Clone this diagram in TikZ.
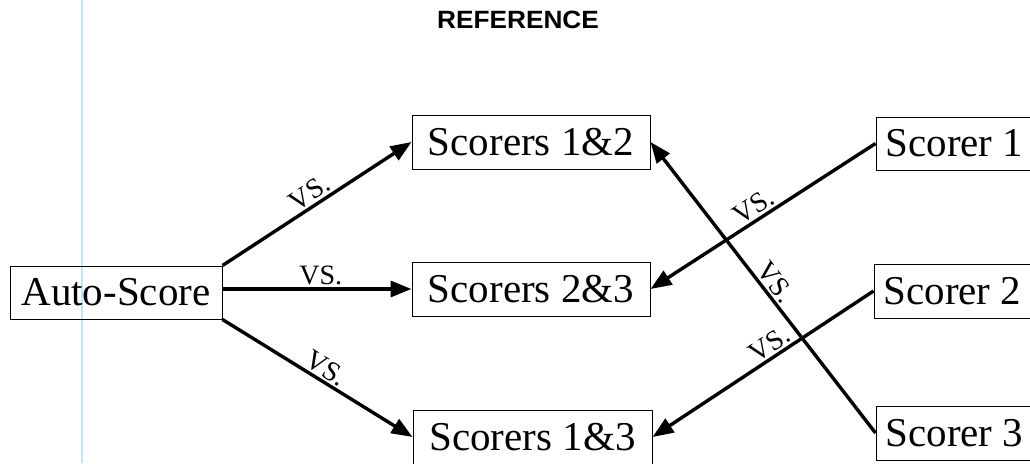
\documentclass[tikz,border=0pt]{standalone}
\usepackage{fontspec}
\setmainfont{Liberation Serif}
\newfontfamily\titlefont{Liberation Sans}
\usetikzlibrary{arrows.meta}
\definecolor{guide}{RGB}{195,228,240}
\tikzset{
  box/.style={draw=black, line width=1pt, inner sep=0pt, minimum height=54pt,
    font=\fontsize{41}{41}\selectfont},
  link/.style={line width=3.4pt, -{Triangle[length=21pt,width=16pt]}},
  vs/.style={sloped, above, inner sep=2pt, font=\fontsize{28}{28}\selectfont}
}
\begin{document}
\begin{tikzpicture}[x=1pt,y=-1pt]
\useasboundingbox (0,0) rectangle (1030,463);
\clip (0,0) rectangle (1030,463);
\draw[guide, line width=1.6pt] (82,0) -- (82,463);
\node[font=\titlefont\bfseries\fontsize{25}{25}\selectfont] (title) at (518,20) {\scalebox{1.05}[1]{REFERENCE}};

\node[box, minimum width=212pt, minimum height=53pt] (auto) at (116,292.5) {Auto-Score};
\node[box, minimum width=238pt] (s12) at (531,142) {Scorers 1\&2};
\node[box, minimum width=238pt] (s23) at (531,289) {Scorers 2\&3};
\node[box, minimum width=239pt] (s13) at (532.5,437) {Scorers 1\&3};
\node[box, minimum width=157pt, minimum height=53pt] (r1) at (954.5,143.5) {Scorer 1};
\node[box, minimum width=157pt] (r2) at (952.5,291) {Scorer 2};
\node[box, minimum width=157pt] (r3) at (954.5,433) {Scorer 3};

\coordinate (aeast) at (auto.east |- s23.west);
\draw[link] (auto.north east) -- node[vs, pos=0.5] {VS.} (s12.west);
\draw[link] (aeast) -- node[vs, pos=0.52] {VS.} (s23.west);
\draw[link] (auto.south east) -- node[vs, pos=0.51] {VS.} (s13.west);
\draw[link] (r1.west) -- node[vs, pos=0.51] {VS.} (s23.east);
\draw[link] (r3.west) -- node[vs, pos=0.49] {VS.} (s12.east);
\draw[link] (r2.west) -- node[vs, pos=0.44] {VS.} (s13.east);
\end{tikzpicture}
\end{document}
